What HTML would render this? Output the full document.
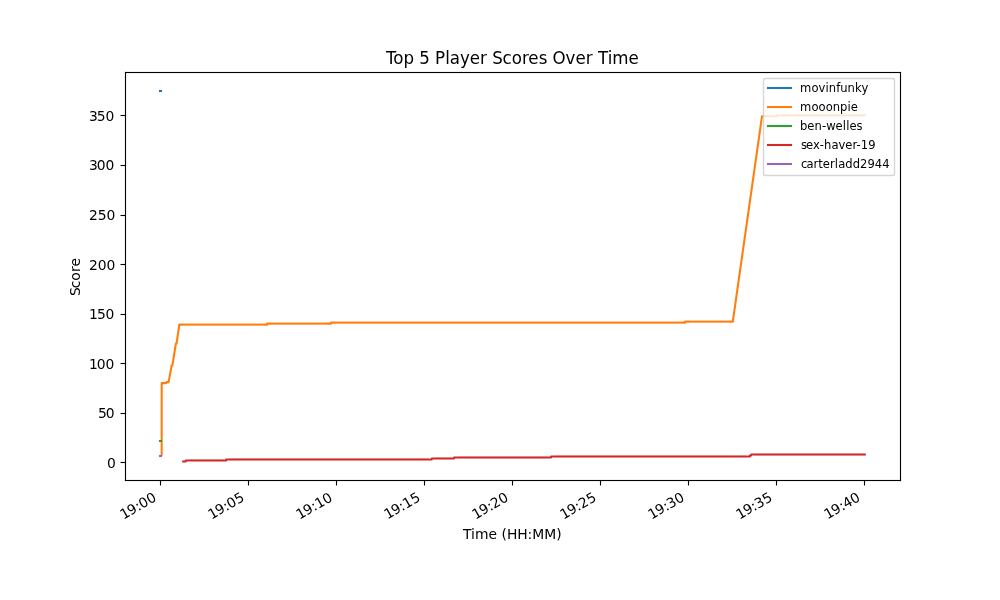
<!DOCTYPE html>
<html><head><meta charset="utf-8"><title>Top 5 Player Scores Over Time</title>
<style>html,body{margin:0;padding:0;background:#fff;width:1000px;height:600px;overflow:hidden}svg{display:block;will-change:transform}</style>
</head><body>
<svg width="1000" height="600" viewBox="0 0 1000 600" font-family="'DejaVu Sans', 'Liberation Sans', sans-serif"><defs><clipPath id="c0"><rect x="125" y="72" width="775" height="408"/></clipPath></defs>
<path d="M0 600L1000 600L1000 0L0 0Z" fill="#ffffff"/>
<path d="M125 480L900 480L900 72L125 72Z" fill="#ffffff"/>
<path d="M0.5 0.5L0.5 5.5" transform="translate(160 480)" fill="#000000" stroke="#000000" stroke-width="1.111"/>
<text transform="translate(122.725 520.186) rotate(-30)" x="1 8.875 18 22.375 31.125" y="0" font-size="13.889" fill="#000000">19:00</text>
<path d="M0.5 0.5L0.5 5.5" transform="translate(248 480)" fill="#000000" stroke="#000000" stroke-width="1.111"/>
<text transform="translate(210.974 519.936) rotate(-30)" x="0.5 8.625 17.5 21.875 30.875" y="0" font-size="13.889" fill="#000000">19:05</text>
<path d="M0.5 0.5L0.5 5.5" transform="translate(336 480)" fill="#000000" stroke="#000000" stroke-width="1.111"/>
<text transform="translate(298.864 520.249) rotate(-30)" x="0.75 8.875 17.75 22.375 31" y="0" font-size="13.889" fill="#000000">19:10</text>
<path d="M0.5 0.5L0.5 5.5" transform="translate(424 480)" fill="#000000" stroke="#000000" stroke-width="1.111"/>
<text transform="translate(386.862 519.999) rotate(-30)" x="0.75 8.875 17.5 22.125 31" y="0" font-size="13.889" fill="#000000">19:15</text>
<path d="M0.5 0.5L0.5 5.5" transform="translate(512 480)" fill="#000000" stroke="#000000" stroke-width="1.111"/>
<text transform="translate(474.719 520.186) rotate(-30)" x="1 9.125 18 22.375 31.125" y="0" font-size="13.889" fill="#000000">19:20</text>
<path d="M0.5 0.5L0.5 5.5" transform="translate(600 480)" fill="#000000" stroke="#000000" stroke-width="1.111"/>
<text transform="translate(562.968 519.936) rotate(-30)" x="0.5 8.625 17.25 21.875 30.875" y="0" font-size="13.889" fill="#000000">19:25</text>
<path d="M0.5 0.5L0.5 5.5" transform="translate(688 480)" fill="#000000" stroke="#000000" stroke-width="1.111"/>
<text transform="translate(650.716 520.186) rotate(-30)" x="1 9.125 18 22.375 31.125" y="0" font-size="13.889" fill="#000000">19:30</text>
<path d="M0.5 0.5L0.5 5.5" transform="translate(776 480)" fill="#000000" stroke="#000000" stroke-width="1.111"/>
<text transform="translate(738.965 519.936) rotate(-30)" x="0.5 8.625 17.25 21.875 30.875" y="0" font-size="13.889" fill="#000000">19:35</text>
<path d="M0.5 0.5L0.5 5.5" transform="translate(864 480)" fill="#000000" stroke="#000000" stroke-width="1.111"/>
<text transform="translate(826.713 519.936) rotate(-30)" x="1 8.875 18 22.375 30.875" y="0" font-size="13.889" fill="#000000">19:40</text>
<text transform="translate(462.938 538.652) scale(1 1.06)" x="0 8.125 12 25.5 34 38.625 44.125 54.25 64.625 69.25 81.25 93.25" y="0" font-size="13.889" fill="#000000">Time (HH:MM)</text>
<path d="M0.5 0.5L-4.5 0.5" transform="translate(125 462)" fill="#000000" stroke="#000000" stroke-width="1.111"/>
<text transform="translate(107.028 467.696) scale(1 1.03)" x="0" y="0" font-size="13.889" fill="#000000">0</text>
<path d="M0.5 0.5L-4.5 0.5" transform="translate(125 413)" fill="#000000" stroke="#000000" stroke-width="1.111"/>
<text transform="translate(97.278 417.61) scale(1 1.06)" x="0.75 8.5" y="0" font-size="13.889" fill="#000000">50</text>
<path d="M0.5 0.5L-4.5 0.5" transform="translate(125 363)" fill="#000000" stroke="#000000" stroke-width="1.111"/>
<text transform="translate(88.153 368.523) scale(1 1.03)" x="0.75 8.625 17.375" y="0" font-size="13.889" fill="#000000">100</text>
<path d="M0.5 0.5L-4.5 0.5" transform="translate(125 314)" fill="#000000" stroke="#000000" stroke-width="1.111"/>
<text transform="translate(88.153 318.686) scale(1 1.03)" x="0.75 8.875 17.375" y="0" font-size="13.889" fill="#000000">150</text>
<path d="M0.5 0.5L-4.5 0.5" transform="translate(125 264)" fill="#000000" stroke="#000000" stroke-width="1.111"/>
<text transform="translate(89.028 269.599) scale(1 1.03)" x="0 8.75 17.5" y="0" font-size="13.889" fill="#000000">200</text>
<path d="M0.5 0.5L-4.5 0.5" transform="translate(125 215)" fill="#000000" stroke="#000000" stroke-width="1.111"/>
<text transform="translate(89.028 219.512) scale(1 1.03)" x="0 8.75 17.5" y="0" font-size="13.889" fill="#000000">250</text>
<path d="M0.5 0.5L-4.5 0.5" transform="translate(125 165)" fill="#000000" stroke="#000000" stroke-width="1.111"/>
<text transform="translate(88.028 169.676) scale(1 1.06)" x="1 8.75 17.5" y="0" font-size="13.889" fill="#000000">300</text>
<path d="M0.5 0.5L-4.5 0.5" transform="translate(125 115)" fill="#000000" stroke="#000000" stroke-width="1.111"/>
<text transform="translate(88.278 120.589) scale(1 1.03)" x="0.75 8.5 17.25" y="0" font-size="13.889" fill="#000000">350</text>
<text transform="translate(79.597 296.938) rotate(-90) scale(1 1.03)" x="1 8.75 16.125 24.875 30.375" y="0" font-size="13.889" fill="#000000">Score</text>
<rect x="158.958" y="89.958" width="3.083" height="2.083" fill="#1f77b4" clip-path="url(#c0)"/>
<path d="M161.678 455.554L161.678 383.107L166.108 383.107L166.508 382.116L168.608 382.116L171.708 365.256L172.408 365.256L175.908 343.438L176.608 343.438L179.308 324.595L183 324.595" fill="none" stroke="#ff7f0e" stroke-width="2.083" stroke-linejoin="round" clip-path="url(#c0)"/>
<path d="M264 324.595L267.156 324.595L267.206 323.603L271 323.603" fill="none" stroke="#ff7f0e" stroke-width="2.083" stroke-linejoin="round" clip-path="url(#c0)"/>
<path d="M327 323.603L330.955 323.603L331.005 322.612L335 322.612" fill="none" stroke="#ff7f0e" stroke-width="2.083" stroke-linejoin="round" clip-path="url(#c0)"/>
<path d="M682 322.612L685.049 322.612L685.099 321.62L689 321.62" fill="none" stroke="#ff7f0e" stroke-width="2.083" stroke-linejoin="round" clip-path="url(#c0)"/>
<path d="M729 321.62L732.798 321.62L761.998 116.331L765 116.331" fill="none" stroke="#ff7f0e" stroke-width="2.083" stroke-linejoin="round" clip-path="url(#c0)"/>
<path d="M773 116.331L776.798 116.331L776.848 115.339L780 115.339" fill="none" stroke="#ff7f0e" stroke-width="2.083" stroke-linejoin="round" clip-path="url(#c0)"/>
<rect x="183" y="323.553" width="81" height="2.083" fill="#ff7f0e" clip-path="url(#c0)"/>
<rect x="271" y="322.562" width="56" height="2.083" fill="#ff7f0e" clip-path="url(#c0)"/>
<rect x="335" y="321.57" width="347" height="2.083" fill="#ff7f0e" clip-path="url(#c0)"/>
<rect x="689" y="320.578" width="40" height="2.083" fill="#ff7f0e" clip-path="url(#c0)"/>
<rect x="765" y="115.289" width="8" height="2.083" fill="#ff7f0e" clip-path="url(#c0)"/>
<rect x="780" y="114.297" width="85.814" height="2.083" fill="#ff7f0e" clip-path="url(#c0)"/>
<rect x="158.958" y="439.958" width="3.083" height="2.083" fill="#2ca02c" clip-path="url(#c0)"/>
<path d="M182.166 461.455L185.658 461.455L185.708 460.463L189 460.463" fill="none" stroke="#d62728" stroke-width="2.083" stroke-linejoin="round" clip-path="url(#c0)"/>
<path d="M223 460.463L226.157 460.463L226.207 459.471L230 459.471" fill="none" stroke="#d62728" stroke-width="2.083" stroke-linejoin="round" clip-path="url(#c0)"/>
<path d="M428 459.471L431.753 459.471L431.803 458.479L435 458.479" fill="none" stroke="#d62728" stroke-width="2.083" stroke-linejoin="round" clip-path="url(#c0)"/>
<path d="M451 458.479L454.053 458.479L454.103 457.488L458 457.488" fill="none" stroke="#d62728" stroke-width="2.083" stroke-linejoin="round" clip-path="url(#c0)"/>
<path d="M548 457.488L551.051 457.488L551.101 456.496L555 456.496" fill="none" stroke="#d62728" stroke-width="2.083" stroke-linejoin="round" clip-path="url(#c0)"/>
<path d="M746 456.496L749.898 456.496L749.948 455.504L751.198 455.504L751.248 454.512L755 454.512" fill="none" stroke="#d62728" stroke-width="2.083" stroke-linejoin="round" clip-path="url(#c0)"/>
<rect x="189" y="459.421" width="34" height="2.083" fill="#d62728" clip-path="url(#c0)"/>
<rect x="230" y="458.429" width="198" height="2.083" fill="#d62728" clip-path="url(#c0)"/>
<rect x="435" y="457.438" width="16" height="2.083" fill="#d62728" clip-path="url(#c0)"/>
<rect x="458" y="456.446" width="90" height="2.083" fill="#d62728" clip-path="url(#c0)"/>
<rect x="555" y="455.454" width="191" height="2.083" fill="#d62728" clip-path="url(#c0)"/>
<rect x="755" y="453.471" width="110.814" height="2.083" fill="#d62728" clip-path="url(#c0)"/>
<rect x="158.958" y="454.958" width="3.083" height="2.083" fill="#9467bd" clip-path="url(#c0)"/>
<rect x="124.944" y="71.944" width="1.111" height="409.111" fill="#000000"/>
<rect x="899.944" y="71.944" width="1.111" height="409.111" fill="#000000"/>
<rect x="124.944" y="479.944" width="776.111" height="1.111" fill="#000000"/>
<rect x="124.944" y="71.944" width="776.111" height="1.111" fill="#000000"/>
<text transform="translate(386.125 63.667) scale(1 1.06)" x="-0.25 7.125 17.5 28 33.25 43.75 49 59.125 63.75 73.875 83.75 94 100.875 106.125 116.375 125.75 135.875 142.125 152.625 161.375 166.375 179.375 189.5 199.75 206.625 211.875 221.625 226.25 242.5" y="0" font-size="16.667" fill="#000000">Top 5 Player Scores Over Time</text>
<path d="M765.5 175.5L892.5 175.5Q894.5 175.5 894.5 173.5L894.5 80.5Q894.5 78.5 892.5 78.5L765.5 78.5Q763.5 78.5 763.5 80.5L763.5 173.5Q763.5 175.5 765.5 175.5Z" fill="#ffffff" fill-opacity="0.8" stroke="#cccccc" stroke-opacity="0.8" stroke-width="1.389"/>
<path d="M768 88L779 88L791 88" fill="none" stroke="#1f77b4" stroke-width="2.083" stroke-linecap="square" stroke-linejoin="round"/>
<text transform="translate(799.963 91.662) scale(1 1.06)" x="0 11.625 18.5 25.625 28.75 36.375 40.25 47.625 55 61.625" y="0" font-size="11.569" fill="#000000">movinfunky</text>
<path d="M768 107L779 107L791 107" fill="none" stroke="#ff7f0e" stroke-width="2.083" stroke-linecap="square" stroke-linejoin="round"/>
<text transform="translate(799.963 110.697) scale(1 1.06)" x="0 11.625 18.5 25.875 32.75 40.125 47.5 50.875" y="0" font-size="11.569" fill="#000000">mooonpie</text>
<path d="M768 126L779 126L791 126" fill="none" stroke="#2ca02c" stroke-width="2.083" stroke-linecap="square" stroke-linejoin="round"/>
<text x="799.963 807.338 814.463 822.088 826.338 835.588 842.713 846.338 849.463 856.588" y="129.732" font-size="11.569" fill="#000000">ben-welles</text>
<path d="M768 145L779 145L791 145" fill="none" stroke="#d62728" stroke-width="2.083" stroke-linecap="square" stroke-linejoin="round"/>
<text transform="translate(799.963 148.517) scale(1 1.06)" x="1 6 13.125 19.75 24 31.625 38.5 45.375 52.5 56.5 60.75 68.25" y="0" font-size="11.569" fill="#000000">sex-haver-19</text>
<path d="M768 164L779 164L791 164" fill="none" stroke="#9467bd" stroke-width="2.083" stroke-linecap="square" stroke-linejoin="round"/>
<text transform="translate(799.963 167.551) scale(1 1.06)" x="1 6.625 13.5 18.25 22.875 30 34.75 38.375 45.25 52.875 60 67.625 74.875 82.25" y="0" font-size="11.569" fill="#000000">carterladd2944</text>
</svg>
</body></html>
